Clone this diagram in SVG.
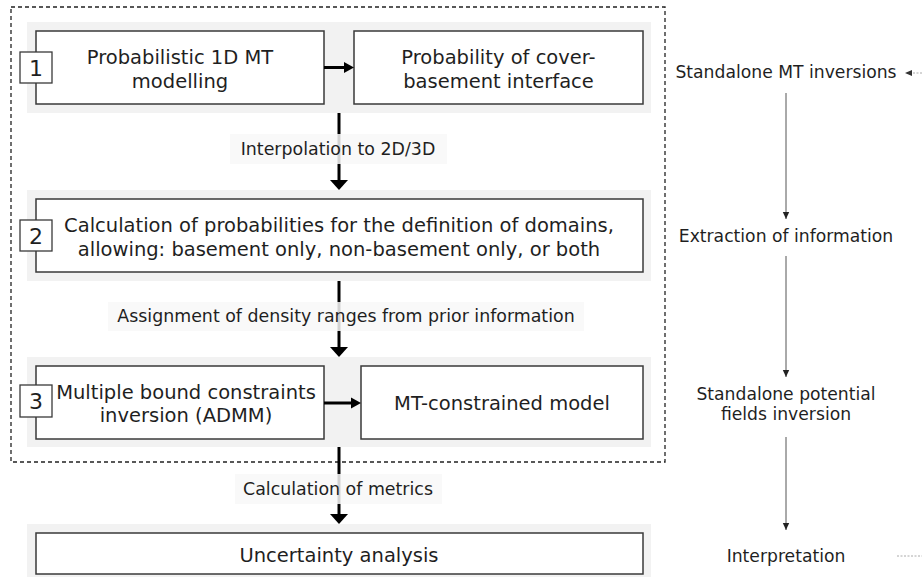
<svg xmlns="http://www.w3.org/2000/svg" width="922" height="577" viewBox="0 0 922 577">
<style>
text{font-family:"DejaVu Sans","Verdana",sans-serif;fill:#1f1f1f}
.m{font-size:19.5px;text-anchor:middle}
.l{font-size:17.4px;text-anchor:middle}
.r{font-size:17.2px;text-anchor:middle}
.n{font-size:22px;text-anchor:middle}
.bg{fill:#f2f2f2}
.box{fill:#fff;stroke:#3a3a3a;stroke-width:1.5}
.num{fill:#fff;stroke:#3a3a3a;stroke-width:1.3}
.lbl{fill:#f8f8f8;fill-opacity:0.85}
.thick{stroke:#000;stroke-width:3;fill:none}
.thin{stroke:#555;stroke-width:1;fill:none}
.dot{stroke:#aaa;stroke-width:1;stroke-dasharray:2,1.5;fill:none}
</style>
<defs>
<marker id="ah" markerWidth="8" markerHeight="8" refX="7" refY="4" orient="auto" markerUnits="userSpaceOnUse">
<path d="M0,0.8 L7,4 L0,7.2 Z" fill="#222"/>
</marker>
</defs>

<rect id="frame" x="11" y="7" width="654" height="455" fill="none" stroke="#222" stroke-width="1.3" stroke-dasharray="4,3"/>

<g id="step1">
<rect class="bg" x="27" y="22" width="624" height="91"/>
<rect class="box" x="36" y="31" width="288" height="73"/>
<text class="m" x="180" y="64">Probabilistic 1D MT</text>
<text class="m" x="180" y="88">modelling</text>
<rect class="num" x="20" y="52" width="32" height="31"/>
<text class="n" x="36" y="76">1</text>
</g>
<g id="prob-interface">
<rect class="box" x="354" y="31" width="289" height="73"/>
<text class="m" x="498.5" y="64">Probability of cover-</text>
<text class="m" x="498.5" y="88">basement interface</text>
</g>

<g id="step2">
<rect class="bg" x="27" y="190" width="624" height="91"/>
<rect class="box" x="36" y="199" width="607" height="73"/>
<text class="m" x="339" y="232">Calculation of probabilities for the definition of domains,</text>
<text class="m" x="339" y="256">allowing: basement only, non-basement only, or both</text>
<rect class="num" x="20" y="220" width="32" height="31"/>
<text class="n" x="36" y="244">2</text>
</g>

<g id="step3">
<rect class="bg" x="27" y="357" width="624" height="90"/>
<rect class="box" x="36" y="366" width="288" height="73"/>
<text class="m" x="186" y="399">Multiple bound constraints</text>
<text class="m" x="186" y="422">inversion (ADMM)</text>
<rect class="num" x="20" y="385" width="32" height="32"/>
<text class="n" x="36" y="409">3</text>
</g>
<g id="mt-model">
<rect class="box" x="361" y="366" width="282" height="73"/>
<text class="m" x="502" y="410">MT-constrained model</text>
</g>

<g id="uncertainty">
<rect class="bg" x="27" y="524" width="624" height="53"/>
<rect class="box" x="36" y="533" width="607" height="41"/>
<text class="m" x="339" y="562">Uncertainty analysis</text>
</g>

<g id="connectors">
<line class="thick" x1="324" y1="67.5" x2="345" y2="67.5"/>
<polygon points="344,62 354,67.5 344,73" fill="#000"/>
<line class="thick" x1="324" y1="403" x2="352" y2="403"/>
<polygon points="351,397.5 361,403 351,408.5" fill="#000"/>

<line class="thick" x1="339" y1="113" x2="339" y2="181"/>
<polygon points="330,180 348,180 339,190" fill="#000"/>
<line class="thick" x1="339" y1="281" x2="339" y2="348"/>
<polygon points="330,347 348,347 339,357" fill="#000"/>
<line class="thick" x1="339" y1="447" x2="339" y2="515"/>
<polygon points="330,514 348,514 339,524" fill="#000"/>

<line class="thin" x1="786" y1="93" x2="786" y2="219" marker-end="url(#ah)"/>
<line class="thin" x1="786" y1="256" x2="786" y2="377" marker-end="url(#ah)"/>
<line class="thin" x1="786" y1="437" x2="786" y2="530" marker-end="url(#ah)"/>
<line class="dot" x1="922" y1="73" x2="907" y2="73"/>
<polygon points="905,73 912,70 912,76" fill="#333"/>
<line class="dot" x1="897" y1="556" x2="922" y2="556"/>
</g>

<g id="label-interp">
<rect class="lbl" x="230" y="134" width="217" height="30"/>
<text class="l" x="338" y="155">Interpolation to 2D/3D</text>
</g>
<g id="label-assign">
<rect class="lbl" x="108" y="302" width="476" height="29"/>
<text class="l" x="346" y="322">Assignment of density ranges from prior information</text>
</g>
<g id="label-metrics">
<rect class="lbl" x="235" y="474" width="207" height="30"/>
<text class="l" x="338" y="495">Calculation of metrics</text>
</g>

<g id="side-mt"><text class="r" x="786" y="78">Standalone MT inversions</text></g>
<g id="side-extract"><text class="r" x="786" y="242">Extraction of information</text></g>
<g id="side-pf"><text class="r" x="786" y="400">Standalone potential</text><text class="r" x="786" y="420">fields inversion</text></g>
<g id="side-interp"><text class="r" x="786" y="562">Interpretation</text></g>
</svg>
